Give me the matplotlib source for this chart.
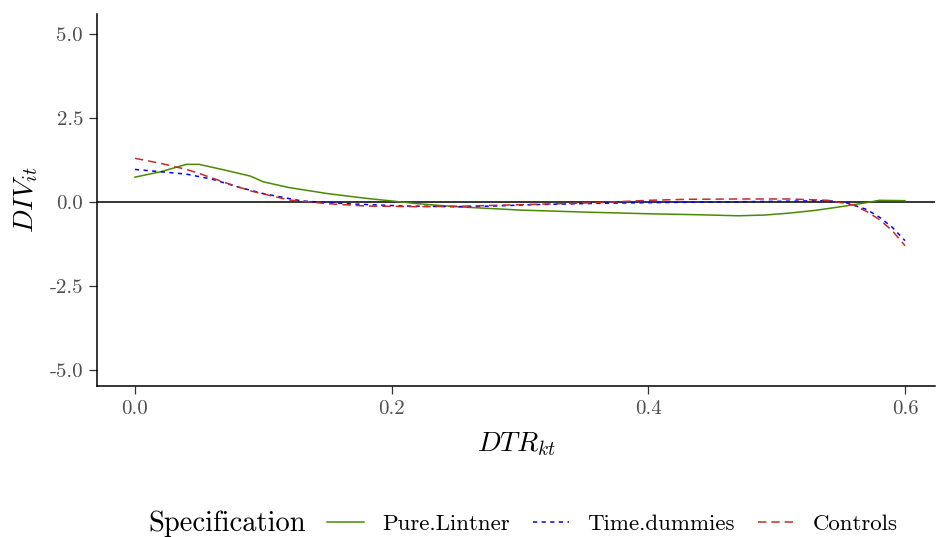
import numpy as np
import matplotlib
matplotlib.use("Agg")
import matplotlib.pyplot as plt
from matplotlib.lines import Line2D

plt.rcParams['mathtext.fontset'] = 'cm'
plt.rcParams['font.family'] = ['cmr10', 'DejaVu Sans']
plt.rcParams['axes.unicode_minus'] = False
plt.rcParams['lines.scale_dashes'] = False

# data
x_lintner = [0, 0.02, 0.04, 0.05, 0.07, 0.09, 0.10, 0.12, 0.15, 0.18, 0.20, 0.22, 0.25,
             0.30, 0.35, 0.40, 0.44, 0.47, 0.49, 0.51, 0.53, 0.55, 0.57, 0.58, 0.60]
y_lintner = [0.74, 0.90, 1.12, 1.12, 0.95, 0.77, 0.60, 0.43, 0.25, 0.11, 0.03, -0.05, -0.14,
             -0.24, -0.30, -0.35, -0.38, -0.41, -0.39, -0.33, -0.25, -0.14, -0.02, 0.05, 0.04]

x_dummies = [0, 0.02, 0.04, 0.06, 0.08, 0.10, 0.13, 0.17, 0.21, 0.25, 0.28, 0.31, 0.36,
             0.40, 0.45, 0.50, 0.54, 0.555, 0.57, 0.58, 0.59, 0.60]
y_dummies = [0.97, 0.90, 0.83, 0.68, 0.45, 0.25, 0.03, -0.06, -0.12, -0.14, -0.12, -0.08, -0.04,
             -0.02, 0.0, 0.02, 0.04, -0.03, -0.22, -0.45, -0.75, -1.15]

x_controls = [0, 0.02, 0.04, 0.05, 0.07, 0.09, 0.12, 0.15, 0.18, 0.22, 0.26, 0.31, 0.36,
              0.40, 0.43, 0.47, 0.51, 0.54, 0.56, 0.57, 0.58, 0.59, 0.60]
y_controls = [1.30, 1.15, 0.97, 0.85, 0.58, 0.33, 0.06, -0.05, -0.12, -0.14, -0.12, -0.07, -0.02,
              0.05, 0.08, 0.09, 0.09, 0.05, -0.09, -0.28, -0.52, -0.85, -1.30]

labels = ['Pure.Lintner', 'Time.dummies', 'Controls']
colors = ['#4A8A00', '#0000FF', '#C42B2B']
dashes = [None, (3.0, 3.2), (6.0, 3.6)]

xticks = [0.0, 0.2, 0.4, 0.6]
yticks = [-5.0, -2.5, 0.0, 2.5, 5.0]

fig = plt.figure(figsize=(9.36, 5.37), dpi=100)
ax = fig.add_axes([97/936, 1-386/537, (935-97)/936, (386-14)/537])

ax.axhline(0, color='black', lw=1.1, zorder=1)

series = [(x_lintner, y_lintner), (x_dummies, y_dummies), (x_controls, y_controls)]
handles = []
for (xs, ys), lab, col, d in zip(series, labels, colors, dashes):
    line, = ax.plot(xs, ys, color=col, lw=1.1, label=lab, zorder=2)
    h = Line2D([], [], color=col, lw=1.1)
    if d is not None:
        line.set_dashes(d)
        h.set_dashes(d)
    handles.append(h)

ax.set_xlim(-0.0296, 0.6234)
ax.set_ylim(-5.476, 5.595)
ax.set_xticks(xticks)
ax.set_xticklabels(['%.1f' % v for v in xticks])
ax.set_yticks(yticks)
ax.set_yticklabels(['%.1f' % v for v in yticks])
ax.tick_params(colors='#333333', labelcolor='#4d4d4d', labelsize=15, length=6, width=0.9, pad=4)
for s in ['top', 'right']:
    ax.spines[s].set_visible(False)
for s in ['left', 'bottom']:
    ax.spines[s].set_linewidth(1.1)

ax.set_xlabel(r'$DTR_{kt}$', fontsize=20, labelpad=9)
ax.set_ylabel(r'$DIV_{it}$', fontsize=20, labelpad=7)

fig.text(148/936, 1-524/537, 'Specification', fontsize=20.5, va='center', ha='left')
fig.legend(handles, labels, ncol=3, loc='center left', bbox_to_anchor=(327/936, 1-524/537),
           frameon=False, fontsize=16.5, handlelength=1.6, columnspacing=1.0, handletextpad=0.8,
           borderaxespad=0, borderpad=0)

fig.savefig('out.png', dpi=100)
